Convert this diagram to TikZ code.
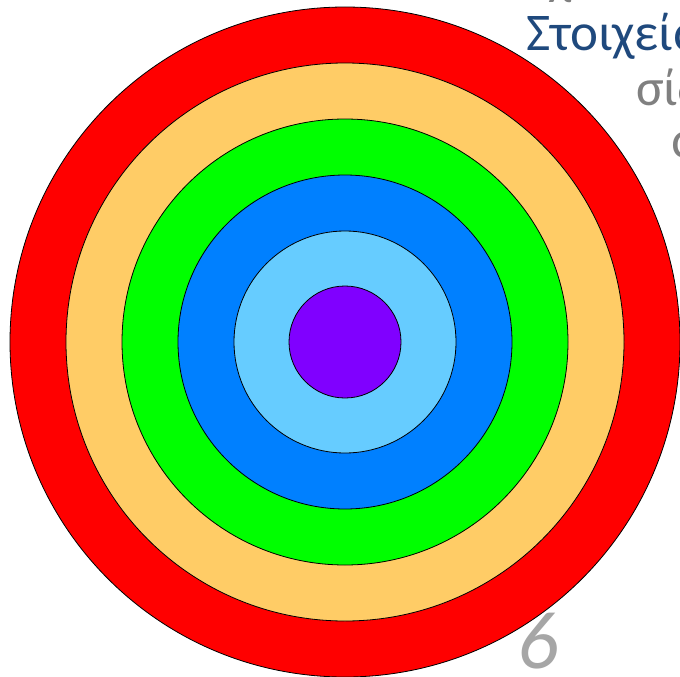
\documentclass[tikz,border=0pt]{standalone}
\usepackage{fontspec}
\setmainfont{Carlito}
\usetikzlibrary{positioning}
\definecolor{ringred}{RGB}{255,0,0}
\definecolor{ringorange}{RGB}{255,204,102}
\definecolor{ringgreen}{RGB}{0,255,0}
\definecolor{ringblue}{RGB}{0,128,255}
\definecolor{ringsky}{RGB}{102,204,255}
\definecolor{ringviolet}{RGB}{128,0,255}
\definecolor{titleblue}{RGB}{31,73,125}
\definecolor{subgray}{RGB}{128,128,128}
\definecolor{numgray}{RGB}{166,166,166}
\begin{document}
\begin{tikzpicture}[x=1pt, y=-1pt]
          \useasboundingbox (0,0) rectangle (680,677);
          \filldraw[fill=ringred, draw=black, thick] (345,342) circle (335);
          \filldraw[fill=ringorange, draw=black, thick] (345,342) circle (279);
          \filldraw[fill=ringgreen, draw=black, thick] (345,342) circle (223);
          \filldraw[fill=ringblue, draw=black, thick] (345,342) circle (167);
          \filldraw[fill=ringsky, draw=black, thick] (345,342) circle (111);
          \filldraw[fill=ringviolet, draw=black, thick] (345,342) circle (56);
          \node[anchor=base west, inner sep=0pt, text=subgray, font=\fontsize{50}{60}\selectfont] (top) at (548,3) {λ};
          \node[anchor=base west, inner sep=0pt, text=titleblue, font=\fontsize{53}{62}\selectfont] (title) at (526,51) {Στοιχεία};
          \node[anchor=base west, inner sep=0pt, text=subgray, font=\fontsize{52}{62}\selectfont] (line2) at (636,105) {σίδ};
          \node[anchor=base west, inner sep=0pt, text=subgray, font=\fontsize{52}{62}\selectfont] (line3) at (671,157) {α};
          \node[anchor=base, inner sep=0pt, text=numgray, font=\fontsize{82}{90}\itshape] (page) at (538,668) {6};
        \end{tikzpicture}
\end{document}
